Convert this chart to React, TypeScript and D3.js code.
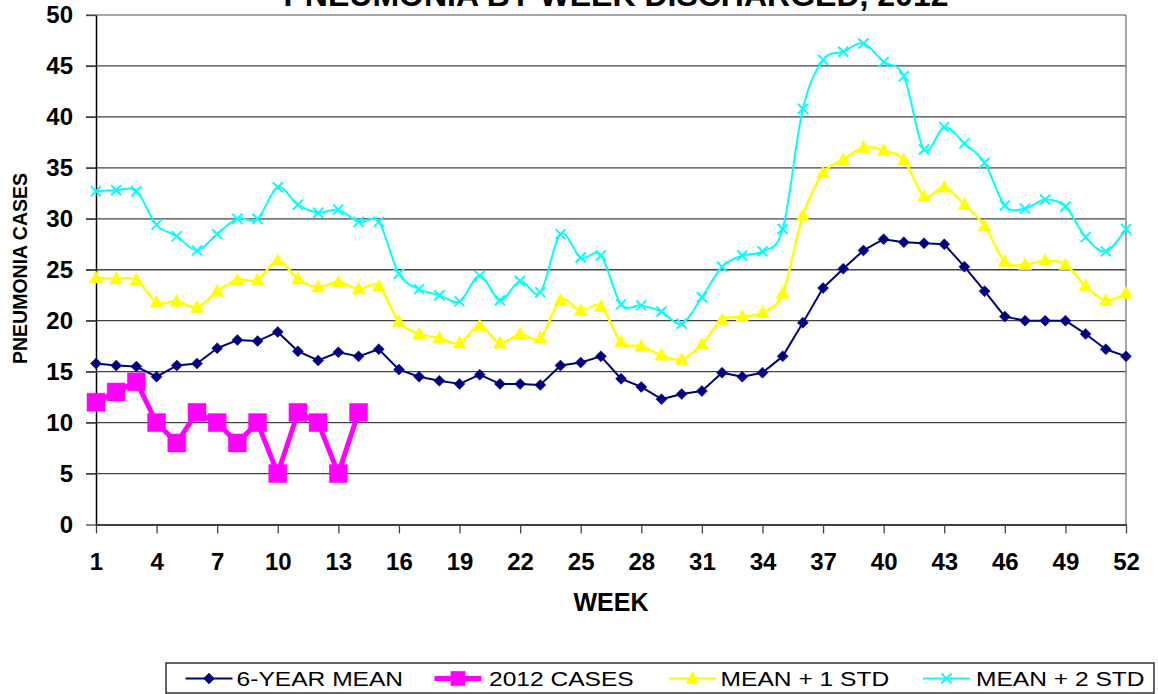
import React, { useEffect, useRef } from 'react';
import * as d3 from 'd3';

const weeks = [
  1, 2, 3, 4, 5, 6, 7, 8, 9, 10, 11, 12, 13, 14, 15, 16, 17, 18, 19, 20, 21, 22, 23, 24, 25, 26,
  27, 28, 29, 30, 31, 32, 33, 34, 35, 36, 37, 38, 39, 40, 41, 42, 43, 44, 45, 46, 47, 48, 49, 50, 51, 52,
];

const mean6yr = [
  15.8, 15.6, 15.5, 14.5, 15.6, 15.8, 17.3, 18.1, 18.0, 18.9, 17.0, 16.1, 16.9, 16.5, 17.2, 15.2, 14.5,
  14.1, 13.8, 14.7, 13.8, 13.8, 13.7, 15.6, 15.9, 16.5, 14.3, 13.5, 12.3, 12.8, 13.1, 14.9, 14.5, 14.9,
  16.5, 19.8, 23.2, 25.1, 26.9, 28.0, 27.7, 27.6, 27.5, 25.3, 22.9, 20.4, 20.0, 20.0, 20.0, 18.7, 17.2, 16.5,
];

const cases2012 = [12, 13, 14, 10, 8, 11, 10, 8, 10, 5, 11, 10, 5, 11];

const meanPlus1 = [
  24.2, 24.1, 24.0, 21.8, 21.9, 21.3, 22.9, 24.0, 24.0, 25.9, 24.1, 23.3, 23.8, 23.1, 23.4, 19.9, 18.7,
  18.3, 17.8, 19.5, 17.8, 18.7, 18.3, 22.0, 21.0, 21.4, 17.9, 17.5, 16.6, 16.2, 17.7, 20.1, 20.4, 20.8,
  22.7, 30.3, 34.5, 35.8, 37.0, 36.7, 35.8, 32.2, 33.1, 31.4, 29.3, 25.8, 25.5, 25.9, 25.5, 23.4, 22.0, 22.7,
];

const meanPlus2 = [
  32.7, 32.8, 32.7, 29.4, 28.3, 26.9, 28.5, 30.0, 30.0, 33.1, 31.4, 30.6, 30.9, 29.7, 29.7, 24.6, 23.1,
  22.5, 21.9, 24.4, 22.0, 23.9, 22.8, 28.5, 26.2, 26.4, 21.6, 21.5, 20.9, 19.7, 22.3, 25.3, 26.4, 26.8,
  29.0, 40.8, 45.6, 46.4, 47.2, 45.4, 44.0, 36.8, 39.0, 37.4, 35.5, 31.3, 31.0, 31.9, 31.2, 28.2, 26.8, 29.0,
];

const xTicks = [1, 4, 7, 10, 13, 16, 19, 22, 25, 28, 31, 34, 37, 40, 43, 46, 49, 52];
const yTicks = [0, 5, 10, 15, 20, 25, 30, 35, 40, 45, 50];

const FONT = '"Liberation Sans", Arial, sans-serif';

const App = () => {
  const ref = useRef<SVGSVGElement>(null);

  useEffect(() => {
    const svg = d3.select(ref.current);
    svg.selectAll('*').remove();

    const left = 96, right = 1126, top = 15, bottom = 524.5;
    const x = d3.scaleLinear().domain([1, 52]).range([left, right]);
    const y = d3.scaleLinear().domain([0, 50]).range([bottom, top]);

    svg.append('rect').attr('width', 1158).attr('height', 694).attr('fill', '#fff');

    // gridlines (tick stubs on the left included)
    svg.append('g').selectAll('line')
      .data(yTicks.filter(d => d > 0))
      .join('line')
        .attr('x1', left - 10).attr('x2', right)
        .attr('y1', d => y(d)).attr('y2', d => y(d))
        .attr('stroke', d => (d === 50 ? '#888' : '#444'))
        .attr('stroke-width', 1.3);

    // right border
    svg.append('line')
      .attr('x1', right).attr('x2', right).attr('y1', top).attr('y2', bottom)
      .attr('stroke', '#888').attr('stroke-width', 1.5);

    // y axis
    const yAxis = svg.append('g')
      .attr('transform', `translate(${left},0)`)
      .call(d3.axisLeft(y).tickValues(yTicks).tickSize(10).tickSizeOuter(0).tickPadding(13));
    yAxis.select('.domain').attr('stroke', '#000').attr('stroke-width', 1.5);
    yAxis.selectAll('.tick line').attr('stroke', '#444').attr('stroke-width', 1.3);
    yAxis.selectAll('text')
      .attr('font-family', FONT).attr('font-size', 24).attr('font-weight', 'bold').attr('fill', '#000');

    // x axis
    const xAxis = svg.append('g')
      .attr('transform', `translate(0,${bottom})`)
      .call(d3.axisBottom(x).tickValues(xTicks).tickSize(9).tickSizeOuter(0).tickPadding(19));
    xAxis.select('.domain').attr('stroke', '#000').attr('stroke-width', 1.5);
    xAxis.selectAll('.tick line').attr('stroke', '#444').attr('stroke-width', 1.3);
    xAxis.selectAll('text')
      .attr('font-family', FONT).attr('font-size', 24).attr('font-weight', 'bold').attr('fill', '#000');

    // titles (the chart title runs off the top edge, as in the original)
    svg.append('text')
      .attr('x', 616).attr('y', 6)
      .attr('text-anchor', 'middle')
      .attr('font-family', FONT).attr('font-size', 32).attr('font-weight', 'bold')
      .text('PNEUMONIA BY WEEK DISCHARGED, 2012');

    svg.append('text')
      .attr('x', 611).attr('y', 611)
      .attr('text-anchor', 'middle')
      .attr('font-family', FONT).attr('font-size', 25).attr('font-weight', 'bold')
      .text('WEEK');

    svg.append('text')
      .attr('transform', 'translate(26.5,268.5) rotate(-90)')
      .attr('text-anchor', 'middle')
      .attr('font-family', FONT).attr('font-size', 19.5).attr('font-weight', 'bold')
      .text('PNEUMONIA CASES');

    // marker shapes
    const diamond = 'M0,-5.5L5.5,0L0,5.5L-5.5,0Z';
    const square = 'M-9,-9H9V9H-9Z';
    const triangle = 'M0,-7L6.5,5L-6.5,5Z';
    const cross = 'M-5,-5L5,5M-5,5L5,-5';

    const series = [
      { name: '6-YEAR MEAN', values: mean6yr, color: '#000080', width: 2, curve: d3.curveLinear, marker: diamond, fillMarker: true, lx: 185.5, tx: 236.6 },
      { name: '2012 CASES', values: cases2012, color: '#FF00FF', width: 5, curve: d3.curveLinear, marker: square, fillMarker: true, lx: 434.5, tx: 489 },
      { name: 'MEAN + 1 STD', values: meanPlus1, color: '#FFFF00', width: 2.5, curve: d3.curveCardinal.tension(0), marker: triangle, fillMarker: true, lx: 669, tx: 720.6 },
      { name: 'MEAN + 2 STD', values: meanPlus2, color: '#00FFFF', width: 2, curve: d3.curveCardinal.tension(0), marker: cross, fillMarker: false, lx: 923, tx: 976 },
    ];

    series.forEach(s => {
      const line = d3.line<number>()
        .x((d, i) => x(weeks[i]))
        .y(d => y(d))
        .curve(s.curve);
      svg.append('path')
        .attr('d', line(s.values))
        .attr('fill', 'none')
        .attr('stroke', s.color)
        .attr('stroke-width', s.width)
        .attr('stroke-linejoin', 'round');
      svg.append('g').selectAll('path')
        .data(s.values)
        .join('path')
          .attr('transform', (d, i) => `translate(${x(weeks[i])},${y(d)})`)
          .attr('d', s.marker)
          .attr('fill', s.fillMarker ? s.color : 'none')
          .attr('stroke', s.color)
          .attr('stroke-width', s.fillMarker ? 0.5 : 2);
    });

    // legend
    const legend = svg.append('g');
    legend.append('rect')
      .attr('x', 166).attr('y', 663).attr('width', 988).attr('height', 30)
      .attr('fill', '#fff').attr('stroke', '#000').attr('stroke-width', 1.2);
    const ly = 678.5;
    series.forEach(s => {
      const scale = s.marker === square ? 0.8 : 1;
      legend.append('line')
        .attr('x1', s.lx).attr('x2', s.lx + 47).attr('y1', ly).attr('y2', ly)
        .attr('stroke', s.color).attr('stroke-width', s.width);
      legend.append('path')
        .attr('transform', `translate(${s.lx + 23.5},${ly}) scale(${scale})`)
        .attr('d', s.marker)
        .attr('fill', s.fillMarker ? s.color : 'none')
        .attr('stroke', s.color)
        .attr('stroke-width', s.fillMarker ? 0.5 : 2);
      // legend text in the original is drawn wide, so stretch it horizontally
      legend.append('text')
        .attr('transform', `translate(${s.tx},${ly}) scale(1.17,1)`)
        .attr('dy', '0.36em')
        .attr('font-family', FONT).attr('font-size', 21)
        .text(s.name);
    });
  }, []);

  return (
    <svg
      ref={ref}
      width={1158}
      height={694}
      style={{ position: 'absolute', left: 0, top: 0, display: 'block' }}
    ></svg>
  );
};

export default App;
